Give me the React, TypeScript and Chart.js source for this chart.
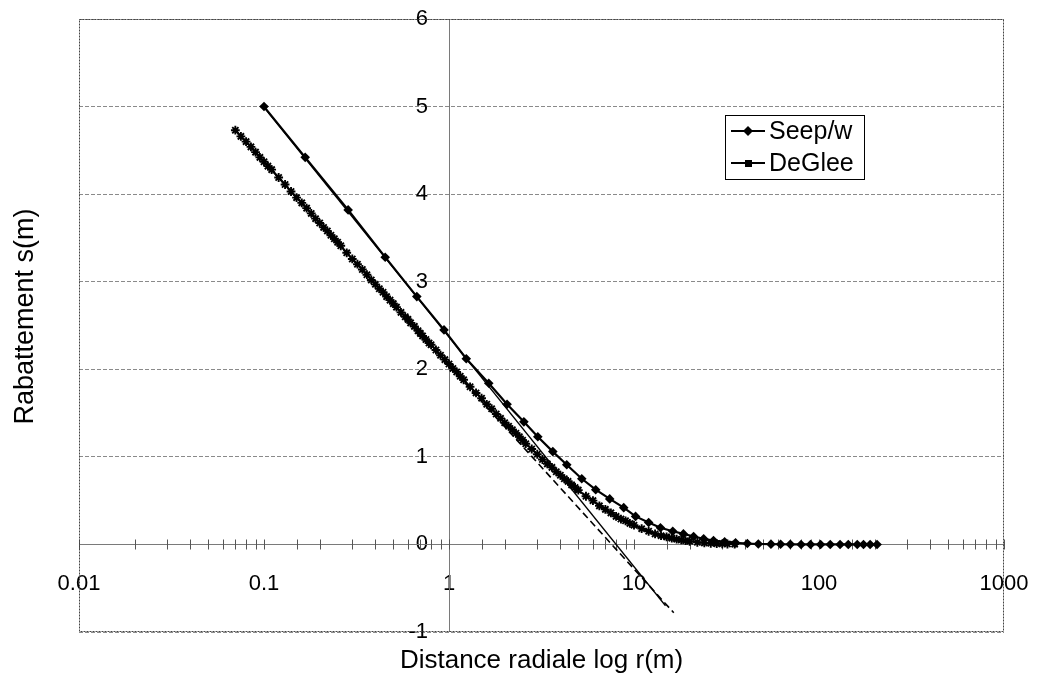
import React, { useEffect, useRef } from 'react';
import { Chart, registerables } from 'chart.js';

Chart.register(...registerables);

// ---- data ----
const seepX = [0.1, 0.167, 0.285, 0.452, 0.67, 0.94, 1.24, 1.64, 2.06, 2.54, 3.02, 3.64, 4.33, 5.22, 6.21, 7.39, 8.8, 10.2, 12.0, 13.9, 16.2, 18.5, 21, 23.8, 26.9, 30.9, 35.4, 41, 47, 55, 62, 70, 80, 90, 102, 115, 130, 144, 161, 174, 189, 206];
const seepY = [5.0, 4.42, 3.82, 3.28, 2.83, 2.45, 2.12, 1.84, 1.6, 1.4, 1.23, 1.06, 0.91, 0.75, 0.625, 0.52, 0.42, 0.32, 0.25, 0.19, 0.15, 0.12, 0.09, 0.065, 0.045, 0.03, 0.018, 0.01, 0.005, 0.003, 0.002, 0.001, 0, 0, 0, 0, 0, 0, 0, 0, 0, 0];

const deGleeX = [0.07, 0.075, 0.08, 0.085, 0.09, 0.095, 0.1, 0.105, 0.11, 0.12, 0.13, 0.14, 0.15, 0.16, 0.17, 0.18, 0.19, 0.2, 0.21, 0.22, 0.23, 0.24, 0.25, 0.26, 0.28, 0.3, 0.32, 0.34, 0.36, 0.38, 0.4, 0.42, 0.44, 0.46, 0.48, 0.5, 0.52, 0.55, 0.58, 0.6, 0.62, 0.65, 0.68, 0.7, 0.72, 0.75, 0.78, 0.8, 0.85, 0.9, 0.95, 1.0, 1.05, 1.1, 1.15, 1.2, 1.3, 1.4, 1.5, 1.6, 1.7, 1.8, 1.9, 2.0, 2.1, 2.2, 2.3, 2.4, 2.5, 2.6, 2.8, 3.0, 3.2, 3.4, 3.6, 3.8, 4.0, 4.2, 4.4, 4.6, 4.8, 5.0, 5.5, 6.0, 6.5, 7.0, 7.5, 8.0, 8.5, 9.0, 9.5, 10, 11, 12, 13, 14, 15, 16, 17, 18, 19, 20, 22, 24, 26, 28, 30, 32, 35];
const deGleeY = [4.73, 4.66, 4.60, 4.54, 4.48, 4.42, 4.37, 4.32, 4.28, 4.19, 4.11, 4.03, 3.96, 3.90, 3.84, 3.78, 3.72, 3.67, 3.62, 3.58, 3.53, 3.49, 3.45, 3.41, 3.33, 3.26, 3.20, 3.14, 3.08, 3.02, 2.97, 2.92, 2.88, 2.83, 2.79, 2.75, 2.71, 2.65, 2.60, 2.57, 2.53, 2.49, 2.44, 2.41, 2.38, 2.34, 2.30, 2.28, 2.22, 2.16, 2.11, 2.06, 2.01, 1.97, 1.92, 1.88, 1.80, 1.73, 1.67, 1.60, 1.55, 1.49, 1.44, 1.39, 1.35, 1.31, 1.27, 1.23, 1.19, 1.15, 1.09, 1.03, 0.97, 0.92, 0.88, 0.83, 0.79, 0.75, 0.72, 0.68, 0.65, 0.62, 0.55, 0.50, 0.44, 0.40, 0.36, 0.32, 0.29, 0.27, 0.24, 0.22, 0.18, 0.15, 0.12, 0.10, 0.086, 0.072, 0.060, 0.051, 0.043, 0.036, 0.025, 0.018, 0.013, 0.009, 0.007, 0.005, 0.003];

// straight (semi-log) asymptotes
const seepLineX = [0.1, 14.8];
const seepLineY = [4.99, -0.7];
const deGleeLineX = [0.07, 16.4];
const deGleeLineY = [4.73, -0.78];

const xTickLabels = ['0.01', '0.1', '1', '10', '100', '1000'];
const xMin = 0.01;
const xMax = 1000;
const yMin = -1;
const yMax = 6;
const legendLabels = ['Seep/w', 'DeGlee'];
const xTitle = 'Distance radiale log r(m)';
const yTitle = 'Rabattement s(m)';

const FONT = "'Liberation Sans', Arial, Helvetica, sans-serif";

const toPts = (xs: number[], ys: number[]) => xs.map((x, i) => ({ x, y: ys[i] }));

const decorPlugin = {
  id: 'decor',
  beforeDatasetsDraw(chart: any) {
    const { ctx, chartArea: a, scales } = chart;
    const xs = scales.x;
    const ys = scales.y;
    ctx.save();
    ctx.lineWidth = 1;
    // vertical axis at r = 1
    const x1 = Math.round(xs.getPixelForValue(1)) + 0.5;
    ctx.strokeStyle = '#7a7a7a';
    ctx.beginPath();
    ctx.moveTo(x1, a.top);
    ctx.lineTo(x1, a.bottom);
    ctx.stroke();
    // horizontal axis at s = 0 with crossing tick marks
    const y0 = Math.round(ys.getPixelForValue(0)) + 0.5;
    ctx.beginPath();
    ctx.moveTo(a.left, y0);
    ctx.lineTo(a.right, y0);
    ctx.stroke();
    ctx.strokeStyle = '#555';
    ctx.beginPath();
    xs.ticks.forEach((t: any) => {
      const px = Math.round(xs.getPixelForValue(t.value)) + 0.5;
      ctx.moveTo(px, y0 - 5);
      ctx.lineTo(px, y0 + 5);
    });
    ctx.stroke();
    // plot frame
    ctx.setLineDash([2, 1]);
    ctx.strokeStyle = '#444';
    ctx.strokeRect(Math.round(a.left) + 0.5, Math.round(a.top) + 0.5, Math.round(a.width) - 1, Math.round(a.height) - 1);
    ctx.restore();
  },
  afterDatasetsDraw(chart: any) {
    const { ctx, chartArea: a } = chart;
    ctx.save();
    // axis titles
    ctx.fillStyle = '#000';
    ctx.font = `26px ${FONT}`;
    ctx.textAlign = 'center';
    ctx.textBaseline = 'middle';
    ctx.fillText(xTitle, (a.left + a.right) / 2, 661);
    ctx.save();
    ctx.translate(26, (a.top + a.bottom) / 2 - 9);
    ctx.rotate(-Math.PI / 2);
    ctx.font = `27px ${FONT}`;
    ctx.fillText(yTitle, 0, 0);
    ctx.restore();

    // legend
    const bx = 725, by = 115, bw = 139, bh = 64;
    ctx.fillStyle = '#fff';
    ctx.fillRect(bx, by, bw, bh);
    ctx.strokeStyle = '#000';
    ctx.lineWidth = 1;
    ctx.strokeRect(bx + 0.5, by + 0.5, bw, bh);
    const rows = [by + 16, by + 48];
    legendLabels.forEach((label, i) => {
      const yy = rows[i];
      ctx.strokeStyle = '#000';
      ctx.lineWidth = 2;
      ctx.beginPath();
      ctx.moveTo(731, yy);
      ctx.lineTo(765, yy);
      ctx.stroke();
      ctx.fillStyle = '#000';
      ctx.beginPath();
      if (i === 0) {
        ctx.moveTo(748, yy - 5);
        ctx.lineTo(753, yy);
        ctx.lineTo(748, yy + 5);
        ctx.lineTo(743, yy);
        ctx.closePath();
        ctx.fill();
      } else {
        ctx.fillRect(745, yy - 3, 7, 7);
      }
      ctx.font = `25px ${FONT}`;
      ctx.textAlign = 'left';
      ctx.textBaseline = 'middle';
      ctx.fillText(label, 769, yy + 1);
    });
    ctx.restore();
  },
};

export default function App() {
  const ref = useRef<HTMLCanvasElement | null>(null);
  useEffect(() => {
    if (!ref.current) return;
    const chart = new Chart(ref.current, {
      type: 'scatter',
      data: {
        datasets: [
          {
            label: legendLabels[0],
            data: toPts(seepX, seepY),
            showLine: true,
            borderColor: '#000',
            borderWidth: 2.2,
            pointStyle: 'rectRot',
            pointRadius: 4.8,
            pointBackgroundColor: '#000',
            pointBorderColor: '#000',
            pointBorderWidth: 0,
          },
          {
            label: legendLabels[1],
            data: toPts(deGleeX, deGleeY),
            showLine: true,
            borderColor: '#000',
            borderWidth: 2,
            pointStyle: 'star',
            pointRadius: 4.4,
            pointBackgroundColor: '#000',
            pointBorderColor: '#000',
            pointBorderWidth: 1.9,
          },
          {
            label: 'asymptote Seep/w',
            data: toPts(seepLineX, seepLineY),
            showLine: true,
            borderColor: '#000',
            borderWidth: 1.3,
            pointRadius: 0,
          },
          {
            label: 'asymptote DeGlee',
            data: toPts(deGleeLineX, deGleeLineY),
            showLine: true,
            borderColor: '#000',
            borderWidth: 1.6,
            borderDash: [7, 4],
            pointRadius: 0,
          },
        ],
      },
      options: {
        responsive: false,
        animation: false,
        layout: { padding: { left: 79, right: 34, top: 19, bottom: 47 } },
        plugins: { legend: { display: false }, tooltip: { enabled: false } },
        scales: {
          x: {
            type: 'logarithmic',
            min: xMin,
            max: xMax,
            position: { y: -0.25 } as any,
            grid: { drawOnChartArea: false, drawTicks: false },
            border: { display: false },
            ticks: {
              autoSkip: false,
              maxRotation: 0,
              minRotation: 0,
              padding: 4,
              color: '#000',
              font: { family: FONT, size: 22 },
              callback: (v: any) => {
                const l = Math.log10(Number(v));
                const r = Math.round(l);
                if (Math.abs(l - r) < 1e-6) return xTickLabels[r + 2] ?? '';
                return '';
              },
            },
          },
          y: {
            type: 'linear',
            min: yMin,
            max: yMax,
            position: { x: 0.77 } as any,
            grid: { color: '#8a8a8a', drawTicks: false, lineWidth: 1 },
            border: { display: false, dash: [4, 2] },
            ticks: {
              stepSize: 1,
              color: '#000',
              font: { family: FONT, size: 22 },
            },
          },
        },
      },
      plugins: [decorPlugin],
    } as any);
    return () => chart.destroy();
  }, []);
  return (
    <div style={{ position: 'fixed', left: 0, top: 0, width: 1038, height: 679, background: '#fff' }}>
      <canvas ref={ref} width={1038} height={679} style={{ display: 'block' }} />
    </div>
  );
}
